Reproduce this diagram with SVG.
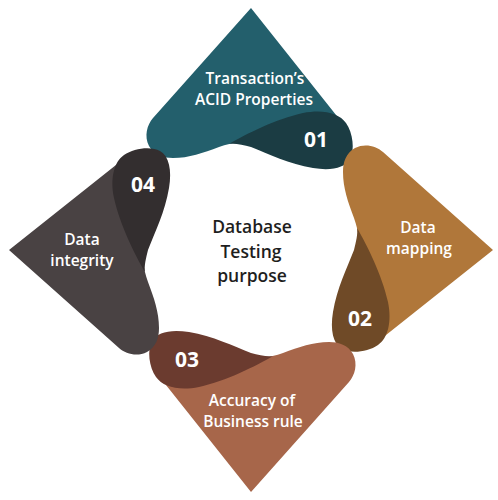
<svg xmlns="http://www.w3.org/2000/svg" xmlns:xlink="http://www.w3.org/1999/xlink" width="498" height="500" viewBox="0 0 498 500">
  <style>
    .lbl { font-family: "Open Sans", "Liberation Sans", sans-serif; font-weight: 600; font-size: 15.5px; fill: #ffffff; text-anchor: middle; }
    .num { font-family: "Open Sans", "Liberation Sans", sans-serif; font-weight: 700; font-size: 21px; fill: #ffffff; text-anchor: middle; }
    .ctr { font-family: "Open Sans", "Liberation Sans", sans-serif; font-weight: 600; font-size: 17.5px; fill: #1e1e1e; text-anchor: middle; }
  </style>
  <defs>
    <path id="leaf" d="M 0,-242 L -98,-132 C -104,-125 -107,-114 -102,-104 C -97,-95 -88,-92 -78,-92 C -62,-92 -48,-97 -32,-103 C -18,-108 -5,-109 10,-110 C 40,-113 65,-120 89,-130 Z"/>
    <path id="drop" d="M -22,-106 C -5,-116 25,-131 52,-137 C 72,-141 88,-137 95,-127 C 102,-117 104,-100 99,-91 C 94,-82 80,-79 62,-82 C 38,-86 18,-96 0,-103 C -8,-105 -16,-107 -22,-106 Z"/>
  </defs>
  <rect width="498" height="500" fill="#ffffff"/>
  <g id="node-01">
    <use xlink:href="#leaf" fill="#235f6c" transform="translate(251 250)"/>
    <use xlink:href="#drop" fill="#1b3c43" transform="translate(251 250)"/>
    <text class="lbl" x="255" y="84">Transaction’s</text>
    <text class="lbl" x="254" y="105">ACID Properties</text>
    <text class="num" x="316" y="147">01</text>
  </g>
  <g id="node-02">
    <use xlink:href="#leaf" fill="#b0773a" transform="translate(251 250) rotate(90)"/>
    <use xlink:href="#drop" fill="#6f4a27" transform="translate(251 250) rotate(90)"/>
    <text class="lbl" x="418" y="233">Data</text>
    <text class="lbl" x="419" y="254">mapping</text>
    <text class="num" x="360" y="326">02</text>
  </g>
  <g id="node-03">
    <use xlink:href="#leaf" fill="#a7664a" transform="translate(251 250) rotate(180)"/>
    <use xlink:href="#drop" fill="#6b3b2f" transform="translate(251 250) rotate(180)"/>
    <text class="lbl" x="252" y="406">Accuracy of</text>
    <text class="lbl" x="253" y="427">Business rule</text>
    <text class="num" x="187" y="367">03</text>
  </g>
  <g id="node-04">
    <use xlink:href="#leaf" fill="#494243" transform="translate(251 250) rotate(270)"/>
    <use xlink:href="#drop" fill="#332e2f" transform="translate(251 250) rotate(270)"/>
    <text class="lbl" x="82" y="245">Data</text>
    <text class="lbl" x="82" y="266">integrity</text>
    <text class="num" x="143" y="192">04</text>
  </g>
  <g id="center">
    <text class="ctr" x="252" y="233">Database</text>
    <text class="ctr" x="251" y="258">Testing</text>
    <text class="ctr" x="252" y="282">purpose</text>
  </g>
  <g id="connectors"/>
</svg>
